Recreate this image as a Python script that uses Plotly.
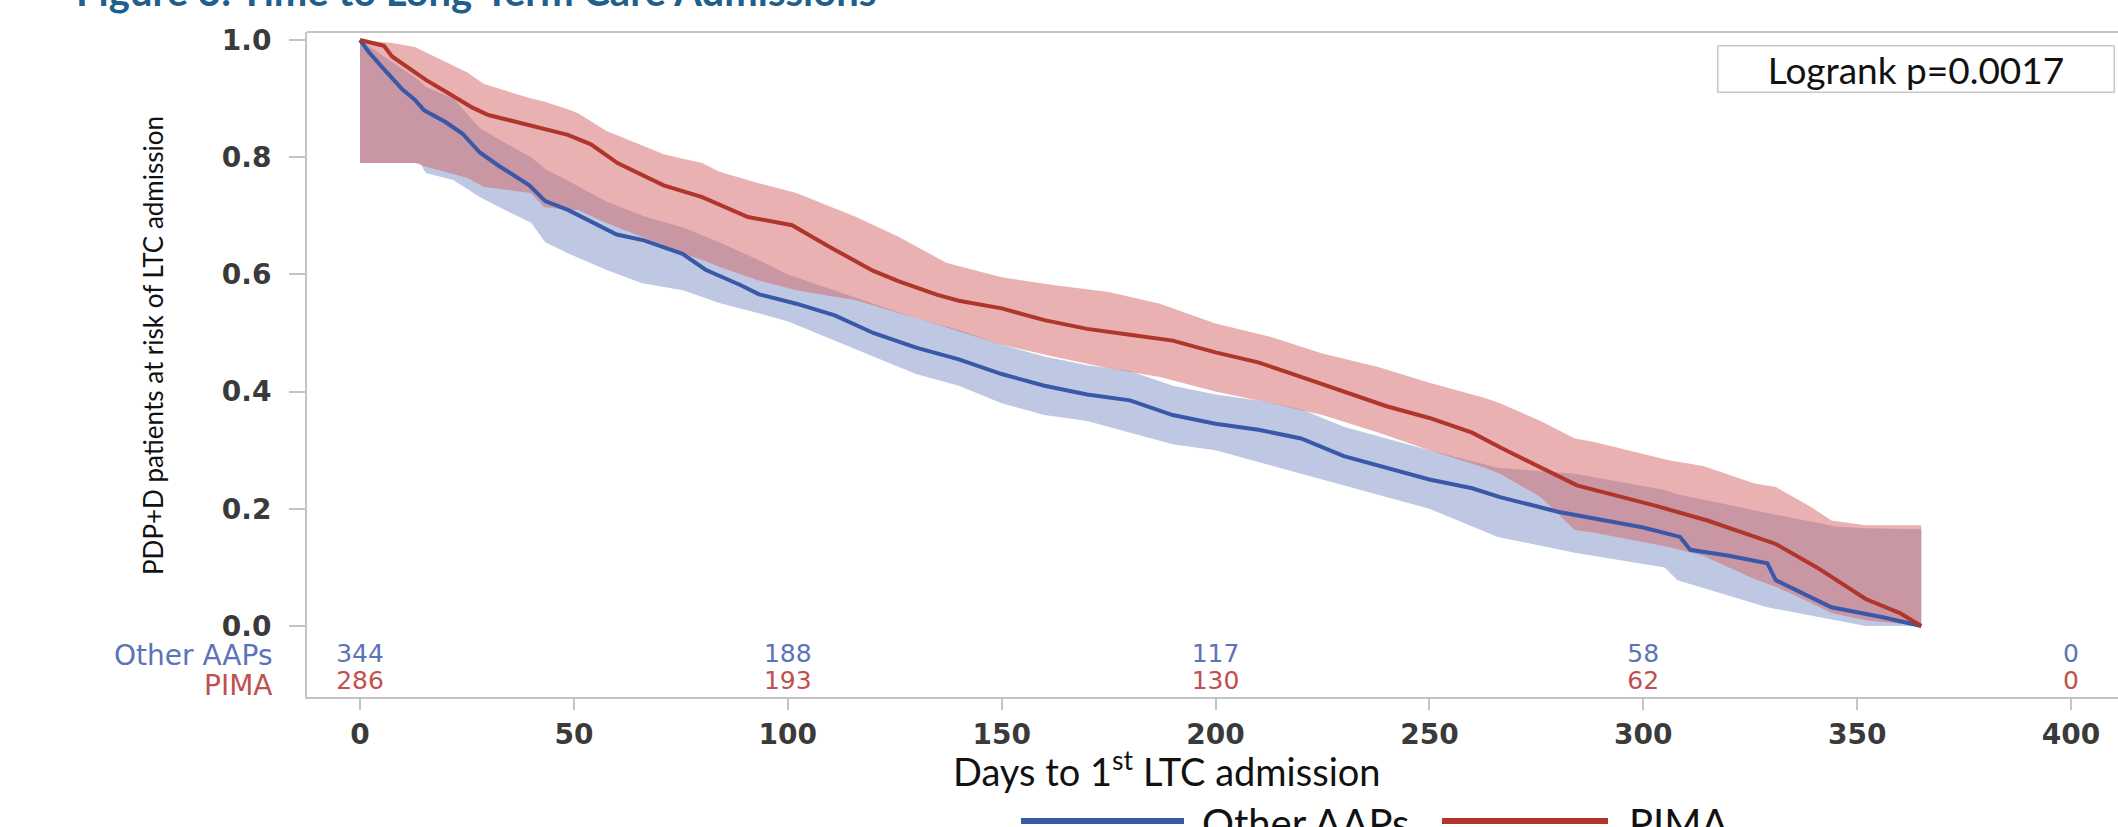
import plotly.graph_objects as go

# ---------------- data ----------------
aap_t = [0, 2, 5, 8, 10, 12.8, 15, 20, 24, 28, 32.5, 39.6, 43.3, 48.6, 54, 60, 66.4, 75.4, 80.8, 88.9, 93.3, 102,
         111, 120, 130, 140, 150, 160, 170, 180, 190, 200, 210, 220, 230, 240, 250, 260, 266.5, 280, 290, 300,
         308.6, 311, 320, 329, 331, 344, 356, 365]
aap_s = [1.0, 0.98, 0.955, 0.93, 0.915, 0.898, 0.88, 0.86, 0.84, 0.808, 0.785, 0.752, 0.725, 0.71, 0.69, 0.668,
         0.658, 0.635, 0.608, 0.582, 0.566, 0.55, 0.53, 0.50, 0.475, 0.455, 0.43, 0.41, 0.395, 0.385, 0.36, 0.345,
         0.335, 0.32, 0.29, 0.27, 0.25, 0.235, 0.22, 0.195, 0.181, 0.168, 0.152, 0.13, 0.12, 0.107, 0.078, 0.032,
         0.015, 0.0]

aap_ci_t = [0, 10, 14, 15.4, 21.8, 28, 32.5, 40, 43.3, 48.6, 57.5, 66, 75.5, 84, 93, 100, 110, 120, 130, 140, 150,
            160, 170, 180, 190, 200, 210, 220, 230, 240, 250, 266, 284, 305, 308, 329, 345, 352, 365]
aap_lo = [0.79, 0.79, 0.79, 0.773, 0.761, 0.732, 0.715, 0.688, 0.655, 0.636, 0.608, 0.585, 0.573, 0.551, 0.534,
          0.52, 0.49, 0.46, 0.43, 0.41, 0.38, 0.36, 0.35, 0.33, 0.31, 0.30, 0.28, 0.26, 0.24, 0.22, 0.20, 0.152,
          0.125, 0.10, 0.078, 0.032, 0.01, 0.0, 0.0]
aap_hi = [1.0, 0.95, 0.93, 0.92, 0.90, 0.85, 0.83, 0.80, 0.78, 0.76, 0.725, 0.70, 0.68, 0.655, 0.625, 0.60, 0.575,
          0.55, 0.525, 0.505, 0.48, 0.46, 0.445, 0.435, 0.41, 0.395, 0.385, 0.37, 0.34, 0.32, 0.30, 0.27, 0.26,
          0.232, 0.225, 0.193, 0.17, 0.167, 0.165]

pima_t = [0, 5.6, 7.5, 12.8, 15.4, 20, 26.2, 30, 41.4, 48.6, 54, 60.2, 71, 80, 90.7, 101, 109.5, 120, 126, 135,
          140, 150, 160, 170, 180, 190, 200, 210, 220, 230, 240, 250, 260, 266.5, 284.5, 303, 315, 331, 340.6, 352,
          360, 365]
pima_s = [1.0, 0.99, 0.972, 0.945, 0.932, 0.912, 0.885, 0.872, 0.852, 0.838, 0.822, 0.79, 0.752, 0.732, 0.698,
          0.684, 0.648, 0.606, 0.588, 0.565, 0.555, 0.542, 0.522, 0.507, 0.497, 0.487, 0.467, 0.45, 0.425, 0.40,
          0.375, 0.355, 0.33, 0.305, 0.24, 0.205, 0.18, 0.14, 0.1, 0.046, 0.022, 0.0]

pima_ci_t = [0, 7.5, 12.8, 15, 25, 29, 40, 43, 48.6, 51, 57.5, 66, 71, 75, 80, 84, 93, 102, 116, 126, 137, 150,
             162, 175, 187, 200, 213, 225, 238, 250, 263, 266.5, 276, 284, 288, 306, 314, 326, 331, 339, 344, 352,
             365]
pima_lo = [0.79, 0.79, 0.79, 0.785, 0.765, 0.749, 0.739, 0.715, 0.71, 0.71, 0.688, 0.664, 0.65, 0.636, 0.625,
           0.613, 0.59, 0.573, 0.556, 0.534, 0.51, 0.48, 0.46, 0.44, 0.425, 0.40, 0.38, 0.36, 0.33, 0.30, 0.27,
           0.26, 0.22, 0.164, 0.16, 0.135, 0.12, 0.08, 0.067, 0.04, 0.022, 0.01, 0.0]
pima_hi = [1.0, 0.995, 0.988, 0.98, 0.945, 0.925, 0.9, 0.895, 0.882, 0.875, 0.845, 0.82, 0.805, 0.798, 0.79,
           0.775, 0.756, 0.739, 0.698, 0.664, 0.62, 0.595, 0.582, 0.57, 0.55, 0.516, 0.493, 0.465, 0.442, 0.415,
           0.389, 0.38, 0.35, 0.32, 0.315, 0.283, 0.273, 0.243, 0.237, 0.204, 0.18, 0.172, 0.172]

risk_days = [0, 100, 200, 300, 400]
risk_aap = [344, 188, 117, 58, 0]
risk_pima = [286, 193, 130, 62, 0]

x_ticks = [0, 50, 100, 150, 200, 250, 300, 350, 400]
y_ticks = [0.0, 0.2, 0.4, 0.6, 0.8, 1.0]

# ---------------- styling ----------------
W, H = 2118, 827
L, T, R, B = 307, 32, 0, 130
PW, PH = W - L - R, H - T - B

BLUE = "#3A58A8"
RED = "#B0352B"
BLUE_BAND = "rgba(125,145,200,0.50)"
RED_BAND = "rgba(212,100,100,0.50)"
BLUE_TXT = "#5B73B8"
RED_TXT = "#C0504D"


def px(x):
    return (x - L) / PW


def py(y):
    return 1 - (y - T) / PH


fig = go.Figure()

# confidence bands
fig.add_trace(go.Scatter(x=aap_ci_t + aap_ci_t[::-1], y=aap_hi + aap_lo[::-1], fill="toself",
                         fillcolor=BLUE_BAND, line=dict(width=0), mode="lines", hoverinfo="skip",
                         showlegend=False))
fig.add_trace(go.Scatter(x=pima_ci_t + pima_ci_t[::-1], y=pima_hi + pima_lo[::-1], fill="toself",
                         fillcolor=RED_BAND, line=dict(width=0), mode="lines", hoverinfo="skip",
                         showlegend=False))
# survival curves
fig.add_trace(go.Scatter(x=aap_t, y=aap_s, mode="lines", line=dict(color=BLUE, width=4),
                         name="Other AAPs", showlegend=False))
fig.add_trace(go.Scatter(x=pima_t, y=pima_s, mode="lines", line=dict(color=RED, width=4),
                         name="PIMA", showlegend=False))

# at-risk table inside the plot
fig.add_trace(go.Scatter(x=risk_days, y=[-0.0512] * len(risk_days), mode="text",
                         text=[str(v) for v in risk_aap],
                         textfont=dict(family="DejaVu Sans", size=25, color=BLUE_TXT),
                         showlegend=False, hoverinfo="skip"))
fig.add_trace(go.Scatter(x=risk_days, y=[-0.0973] * len(risk_days), mode="text",
                         text=[str(v) for v in risk_pima],
                         textfont=dict(family="DejaVu Sans", size=25, color=RED_TXT),
                         showlegend=False, hoverinfo="skip"))

ann = []
ann.append(dict(xref="paper", yref="paper", x=px(274), y=py(655), xanchor="right", yanchor="middle",
                text="Other AAPs", showarrow=False,
                font=dict(family="DejaVu Sans", size=28, color=BLUE_TXT)))
ann.append(dict(xref="paper", yref="paper", x=px(274), y=py(685), xanchor="right", yanchor="middle",
                text="PIMA", showarrow=False,
                font=dict(family="DejaVu Sans", size=28, color=RED_TXT)))
# axis titles
ann.append(dict(xref="paper", yref="paper", x=px(153), y=py(346), xanchor="center", yanchor="middle",
                text="PDP+D patients at risk of LTC admission", textangle=-90, showarrow=False,
                font=dict(family="Lato", size=26, color="#111")))
ann.append(dict(xref="paper", yref="paper", x=px(1167), y=py(769), xanchor="center", yanchor="middle",
                text="Days to 1<sup>st</sup> LTC admission", showarrow=False,
                font=dict(family="Lato", size=38, color="#111")))
# logrank box
ann.append(dict(xref="paper", yref="paper", x=px(1717), y=py(45), xanchor="left", yanchor="top",
                text="Logrank p=0.0017", showarrow=False, width=393, height=43, align="center",
                bgcolor="white", bordercolor="#C8C8C8", borderwidth=1.5,
                font=dict(family="Lato", size=37, color="#111")))
# figure title (mostly cropped at the top)
ann.append(dict(xref="paper", yref="paper", x=px(74), y=py(-9), xanchor="left", yanchor="middle",
                text="<b>Figure 3: Time to Long-Term Care Admissions</b>", showarrow=False,
                font=dict(family="Lato", size=40, color="#1F5F8B")))
# legend texts (cropped at bottom)
ann.append(dict(xref="paper", yref="paper", x=px(1200), y=py(797), xanchor="left", yanchor="top",
                text="Other AAPs", showarrow=False, font=dict(family="Lato", size=40, color="#111")))
ann.append(dict(xref="paper", yref="paper", x=px(1627), y=py(797), xanchor="left", yanchor="top",
                text="PIMA", showarrow=False, font=dict(family="Lato", size=40, color="#111")))

shapes = [
    # top frame line
    dict(type="line", xref="paper", yref="paper", x0=0, x1=1, y0=1, y1=1,
         line=dict(color="#C4C4C4", width=2)),
    # legend samples
    dict(type="line", xref="paper", yref="paper", x0=px(1021), x1=px(1184), y0=py(821), y1=py(821),
         line=dict(color=BLUE, width=6)),
    dict(type="line", xref="paper", yref="paper", x0=px(1442), x1=px(1608), y0=py(821), y1=py(821),
         line=dict(color=RED, width=6)),
]

tickfont = dict(family="DejaVu Sans", size=28, color="#3a3a3a", weight="bold")

fig.update_layout(
    width=W, height=H,
    margin=dict(l=L, r=R, t=T, b=B, pad=0),
    paper_bgcolor="white", plot_bgcolor="white",
    showlegend=False,
    annotations=ann, shapes=shapes,
    xaxis=dict(range=[(L - 360) / 4.2775, (W - 360) / 4.2775], tickvals=x_ticks,
               ticktext=[str(v) for v in x_ticks], showgrid=False, zeroline=False,
               showline=True, linecolor="#C4C4C4", linewidth=2,
               ticks="outside", ticklen=11, tickwidth=2, tickcolor="#C4C4C4",
               tickfont=tickfont),
    yaxis=dict(range=[-(697 - 626) / 586, 1 + (40 - 32) / 586], tickvals=y_ticks,
               ticktext=[f"{v:.1f}" for v in y_ticks], showgrid=False, zeroline=False,
               showline=True, linecolor="#C4C4C4", linewidth=2,
               ticks="outside", ticklen=16, tickwidth=2, tickcolor="#C4C4C4",
               ticklabelstandoff=12,
               tickfont=tickfont),
)

fig.write_html("out.html", config={"displayModeBar": False},
               post_script="document.body.style.margin='0px';")
